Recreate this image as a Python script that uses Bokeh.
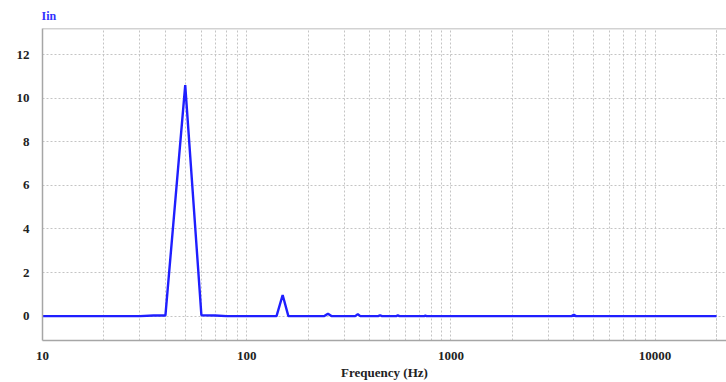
from bokeh.plotting import figure
from bokeh.models import FixedTicker, PrintfTickFormatter, Span, Range1d
from bokeh.embed import file_html
from bokeh.resources import INLINE

# ---- data ----
freq_hz = [10, 30, 35, 40, 50, 60, 70, 80, 140, 150, 160,
           240, 250, 260, 340, 350, 360, 440, 450, 460,
           540, 550, 560, 740, 750, 760, 3900, 4000, 4100, 20000]
iin = [0.0, 0.0, 0.03, 0.03, 10.6, 0.04, 0.03, 0.0, 0.0, 0.97, 0.0,
       0.0, 0.11, 0.0, 0.0, 0.09, 0.0, 0.0, 0.04, 0.0,
       0.0, 0.03, 0.0, 0.0, 0.02, 0.0, 0.0, 0.06, 0.0, 0.0]

x_major_ticks = [10, 100, 1000, 10000]
x_minor_ticks = [m * d for d in (10, 100, 1000, 10000) for m in range(2, 10)] + [20000]
x_minor_ticks = [t for t in x_minor_ticks if t <= 20000]
y_ticks = [0, 2, 4, 6, 8, 10, 12]

title_text = "Iin"
x_label = "Frequency (Hz)"

SERIF = "Liberation Serif"
GRID = "#c4c4c4"
FRAME = "#a6a6a6"

p = figure(width=726, height=382, x_axis_type="log",
           x_range=Range1d(10, 22375), y_range=Range1d(-1.12, 13.2),
           output_backend="svg", toolbar_location=None,
           title=title_text,
           min_border_left=42, min_border_right=0, min_border_top=27, min_border_bottom=0)

p.outline_line_color = None
p.background_fill_color = "white"

# title
p.title.text_font = SERIF
p.title.text_font_style = "bold"
p.title.text_font_size = "12px"
p.title.text_color = "#3232ff"
p.title.align = "left"
p.title.offset = -1
p.title.standoff = 12

# x axis
xa = p.xaxis[0]
xa.ticker = FixedTicker(ticks=x_major_ticks, minor_ticks=x_minor_ticks)
xa.formatter = PrintfTickFormatter(format="%d")
xa.axis_label = x_label
xa.axis_label_text_font = SERIF
xa.axis_label_text_font_style = "bold"
xa.axis_label_text_font_size = "13px"
xa.axis_label_text_color = "#222222"
xa.axis_label_standoff = 2
xa.major_label_text_font = SERIF
xa.major_label_text_font_style = "bold"
xa.major_label_text_font_size = "13px"
xa.major_label_text_color = "#222222"
xa.major_label_standoff = 7
xa.major_tick_line_color = None
xa.minor_tick_line_color = None
xa.major_tick_out = 0
xa.major_tick_in = 0
xa.axis_line_color = FRAME
xa.axis_line_width = 1.5

# y axis
ya = p.yaxis[0]
ya.ticker = FixedTicker(ticks=y_ticks)
ya.major_label_text_font = SERIF
ya.major_label_text_font_style = "bold"
ya.major_label_text_font_size = "13px"
ya.major_label_text_color = "#222222"
ya.major_label_standoff = 13
ya.major_tick_line_color = None
ya.minor_tick_line_color = None
ya.major_tick_out = 0
ya.major_tick_in = 0
ya.axis_line_color = FRAME
ya.axis_line_width = 1.5

# grids
p.xgrid.grid_line_color = GRID
p.xgrid.grid_line_dash = "2 2"
p.xgrid.minor_grid_line_color = GRID
p.xgrid.minor_grid_line_dash = "2 2"
p.ygrid.grid_line_color = GRID
p.ygrid.grid_line_dash = "2 2"

# top border
p.add_layout(Span(location=13.2, dimension="width", line_color=FRAME, line_width=1.5))

p.line(freq_hz, iin, line_color="#1f1fff", line_width=2.4)

open("out.html", "w").write(file_html(p, INLINE))
